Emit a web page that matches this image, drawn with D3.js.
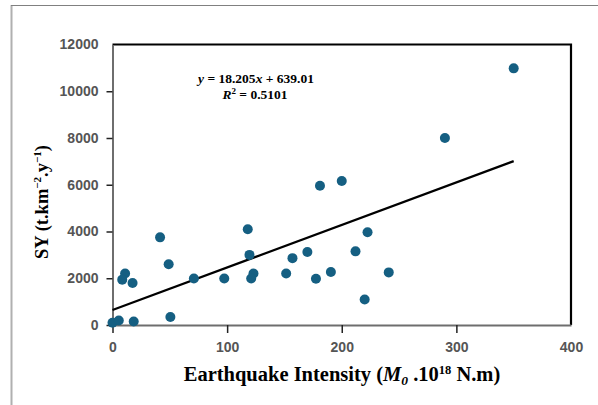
<!DOCTYPE html>
<html><head><meta charset="utf-8">
<script src="https://cdn.jsdelivr.net/npm/d3@7"></script>
<style>body{margin:0;background:#fff}svg{display:block}</style>
</head><body>
<svg id="c" width="598" height="405"></svg>
<script>
const xVals = [350, 290, 200, 181, 118, 222.5, 41.5, 119.5, 212, 170, 157, 49, 11, 8.5, 17.5, 71, 97.5, 123, 121, 151.5, 177.5, 190.5, 241, 220, 50.5, 0, 5.5, 18.5];
const yVals = [10980, 8000, 6160, 5960, 4100, 3970, 3750, 3000, 3150, 3120, 2860, 2600, 2200, 1940, 1800, 1990, 1990, 2200, 1990, 2200, 1980, 2270, 2250, 1090, 340, 100, 190, 150];
const xTicks = [0, 100, 200, 300, 400];
const yTicks = [0, 2000, 4000, 6000, 8000, 10000, 12000];
const slope = 18.205, intercept = 639.01, r2 = "0.5101";
const fitRange = [0, 350];

const svg = d3.select("#c");
svg.append("line").attr("x1",11.5).attr("x2",11.5).attr("y1",5).attr("y2",405).attr("stroke","#b0b0b0").attr("stroke-width",2);
svg.append("line").attr("x1",11).attr("x2",598).attr("y1",5.5).attr("y2",5.5).attr("stroke","#808080").attr("stroke-width",1);

const L = 112.5, R = 571, T = 44.5, B = 325;
const x = d3.scaleLinear().domain([0,400]).range([L,R]);
const y = d3.scaleLinear().domain([0,12000]).range([B,T]);

svg.append("path").attr("d",`M${L},${T}H${R}V${B}`).attr("fill","none").attr("stroke","#000").attr("stroke-width",2.2);

const xa = svg.append("g").attr("transform",`translate(0,${B})`)
  .call(d3.axisBottom(x).tickValues(xTicks).tickFormat(d3.format("d")).tickSize(8).tickSizeOuter(0).tickPadding(9));
const ya = svg.append("g").attr("transform",`translate(${L},0)`)
  .call(d3.axisLeft(y).tickValues(yTicks).tickFormat(d3.format("d")).tickSize(6).tickSizeOuter(0).tickPadding(8));
[xa,ya].forEach(a=>{
  a.select(".domain").attr("stroke","#6e6e6e").attr("stroke-width",2);
  a.selectAll(".tick line").attr("stroke","#222").attr("stroke-width",1.5);
  a.selectAll(".tick text").attr("fill","#555").attr("font-family","Liberation Sans, Arial, sans-serif")
   .attr("font-weight","bold").attr("font-size",14);
});
ya.selectAll(".tick").filter(d=>d===12000).select("line").remove();
xa.selectAll(".tick").filter(d=>d===400).select("line").remove();

svg.append("line")
  .attr("x1",x(fitRange[0])).attr("y1",y(slope*fitRange[0]+intercept))
  .attr("x2",x(fitRange[1])).attr("y2",y(slope*fitRange[1]+intercept))
  .attr("stroke","#000").attr("stroke-width",2.2);

svg.append("g").selectAll("circle").data(xVals.map((v,i)=>[v,yVals[i]])).join("circle")
  .attr("cx",d=>x(d[0])).attr("cy",d=>y(d[1])).attr("r",5).attr("fill","#155f82");

const eq = svg.append("text").attr("x",256).attr("y",83).attr("text-anchor","middle")
  .attr("font-family","Liberation Serif, Times New Roman, serif").attr("font-weight","bold").attr("font-size",13.5);
eq.append("tspan").attr("font-style","italic").text("y");
eq.append("tspan").text(" = " + slope + "");
eq.append("tspan").attr("font-style","italic").text("x");
eq.append("tspan").text(" + " + intercept.toFixed(2));
const rt = svg.append("text").attr("x",255).attr("y",99).attr("text-anchor","middle")
  .attr("font-family","Liberation Serif, Times New Roman, serif").attr("font-weight","bold").attr("font-size",13.5);
rt.append("tspan").attr("font-style","italic").text("R");
rt.append("tspan").attr("font-size",9).attr("dy",-5).text("2");
rt.append("tspan").attr("dy",5).text(" = " + r2);

const xt = svg.append("text").attr("x",342).attr("y",381).attr("text-anchor","middle")
  .attr("font-family","Liberation Serif, Times New Roman, serif").attr("font-weight","bold").attr("font-size",20.5);
xt.append("tspan").text("Earthquake Intensity (");
xt.append("tspan").attr("font-style","italic").text("M");
xt.append("tspan").attr("font-style","italic").attr("font-size",13.5).attr("dy",4).text("0");
xt.append("tspan").attr("dy",-4).text(" .10");
xt.append("tspan").attr("font-size",12.5).attr("dy",-7).text("18");
xt.append("tspan").attr("dy",7).text(" N.m)");

const yt = svg.append("text").attr("transform","translate(48,202) rotate(-90)").attr("text-anchor","middle")
  .attr("font-family","Liberation Serif, Times New Roman, serif").attr("font-weight","bold").attr("font-size",18.5);
yt.append("tspan").text("SY (t.km");
yt.append("tspan").attr("font-size",11).attr("dy",-7).text("−2");
yt.append("tspan").attr("dy",7).text(".y");
yt.append("tspan").attr("font-size",11).attr("dy",-7).text("−1");
yt.append("tspan").attr("dy",7).text(")");
</script>
</body></html>
